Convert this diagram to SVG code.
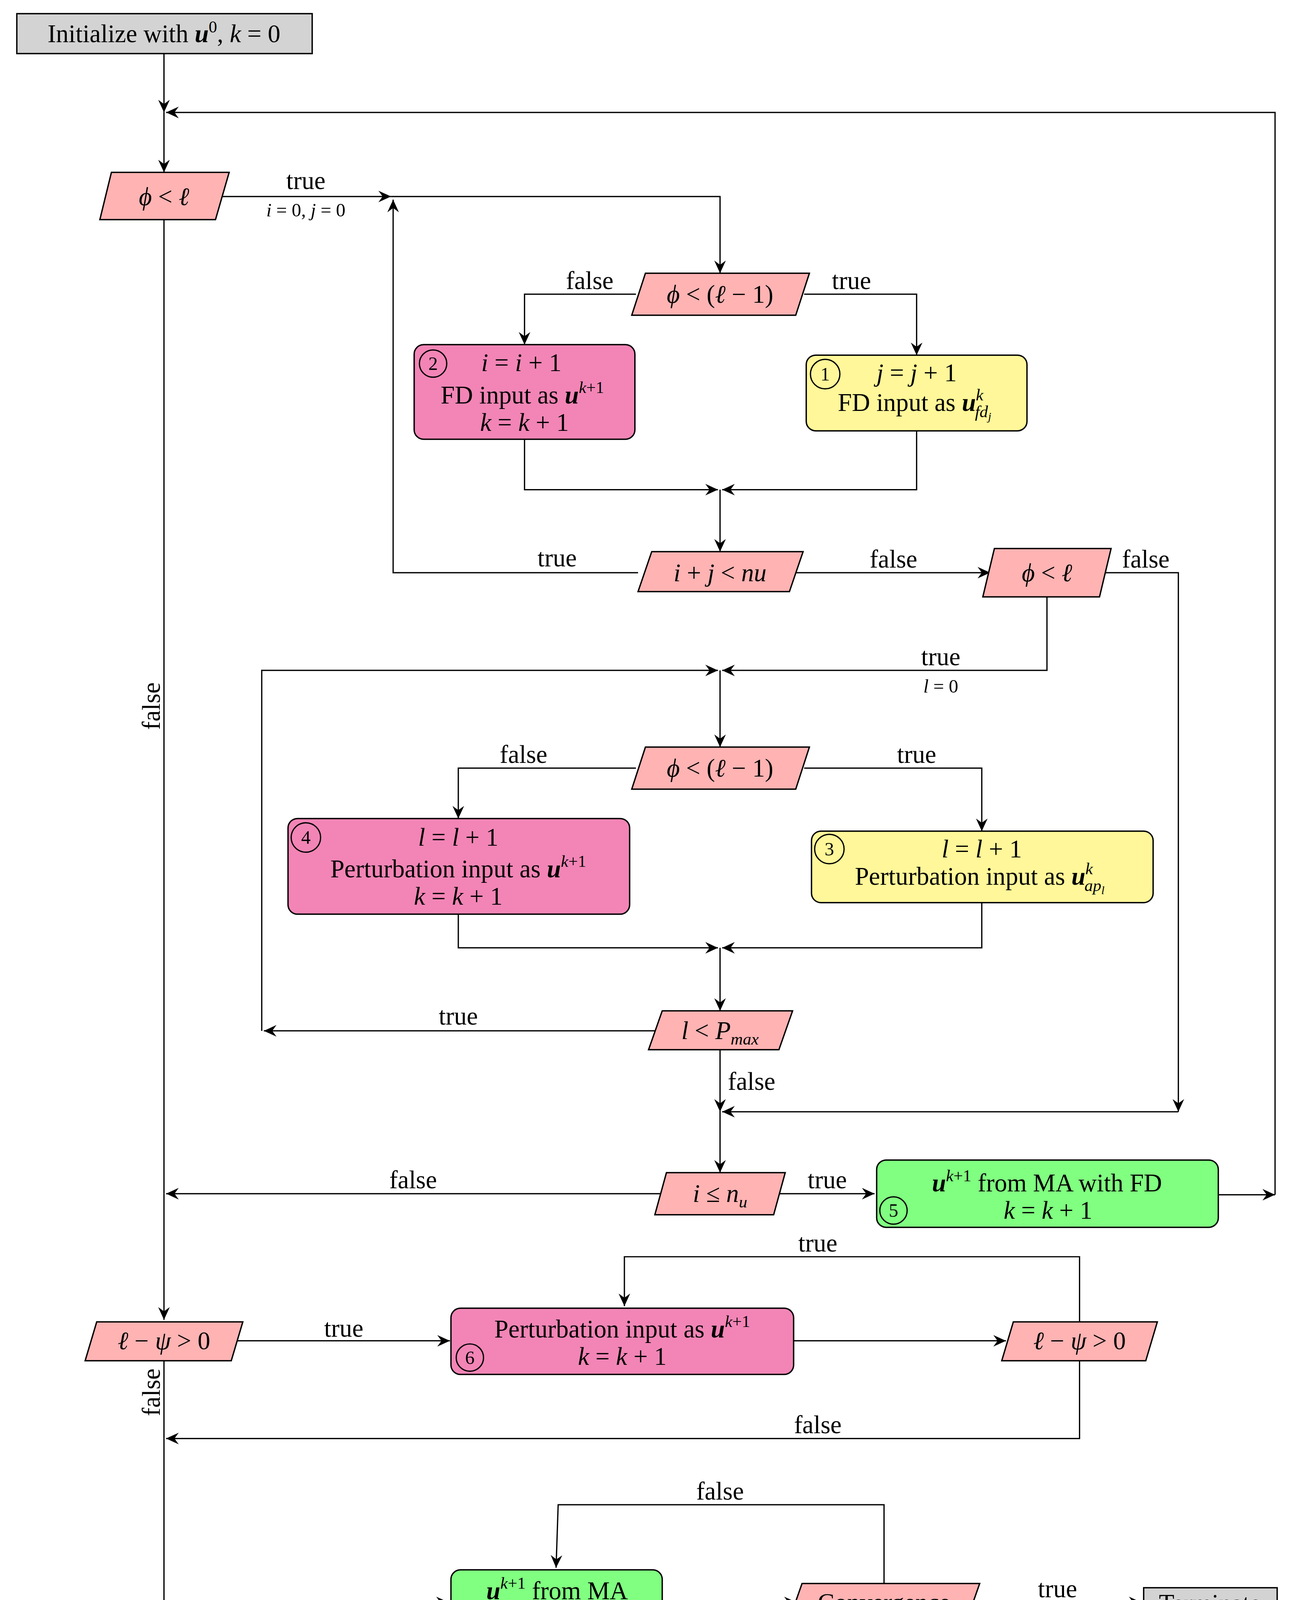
<svg xmlns="http://www.w3.org/2000/svg" width="3314" height="4221" viewBox="0 0 3314 4221">
<defs>
<marker id="ah" markerUnits="userSpaceOnUse" markerWidth="16" markerHeight="14" viewBox="-13 -7 15 14" refX="0" refY="0" orient="auto"><path d="M0,0 L-12,-5.5 L-8,0 L-12,5.5 Z" fill="#000"/></marker>
<style>
text{font-family:"Liberation Serif","DejaVu Serif",serif;font-size:24px;fill:#000}
.c{text-anchor:middle}
.s{font-size:18px}
.i{font-style:italic}
.b{font-style:italic;font-weight:bold}
.sup{font-size:16px}
.par{fill:#ffb3b3;stroke:#000;stroke-width:1.3}
.pk{fill:#f285b6;stroke:#000;stroke-width:1.3}
.ye{fill:#fff799;stroke:#000;stroke-width:1.3}
.gr{fill:#80ff80;stroke:#000;stroke-width:1.3}
.gy{fill:#d3d3d3;stroke:#000;stroke-width:1.3}
.cn path,.cn line,.cn polyline{fill:none;stroke:#000;stroke-width:1.2}
.ar{marker-end:url(#ah)}
.ci{fill:none;stroke:#000;stroke-width:1.2}
.n{font-size:18px}
</style>
</defs>
<rect width="3314" height="4221" fill="#fff"/>
<g transform="scale(2.69)">
<g class="cn">
<polyline class="ar" points="156,51 156,107"/>
<polyline class="ar" points="1213,1137 1213,107 158,107"/>
<polyline class="ar" points="156,107 156,164"/>
<polyline class="ar" points="205,187 372,187"/>
<polyline class="ar" points="372,187 685,187 685,260"/>
<polyline class="ar" points="607,545 374,545 374,190"/>
<polyline class="ar" points="605,280 499,280 499,328"/>
<polyline class="ar" points="765,280 872,280 872,338"/>
<polyline class="ar" points="499,418 499,466 683,466"/>
<polyline class="ar" points="872,410 872,466 687,466"/>
<polyline class="ar" points="685,466 685,525"/>
<polyline class="ar" points="757,545 942,545"/>
<polyline class="ar" points="1052,545 1121,545 1121,1058"/>
<polyline class="ar" points="996,568 996,638 687,638"/>
<polyline class="ar" points="249,981 249,638 683,638"/>
<polyline class="ar" points="685,638 685,711"/>
<polyline class="ar" points="605,731 436,731 436,779"/>
<polyline class="ar" points="765,731 934,731 934,791"/>
<polyline class="ar" points="436,870 436,902 683,902"/>
<polyline class="ar" points="934,859 934,902 687,902"/>
<polyline class="ar" points="685,902 685,962"/>
<polyline class="ar" points="624,981 251,981"/>
<polyline class="ar" points="685,999 685,1058"/>
<polyline class="ar" points="1121,1058 687,1058"/>
<polyline class="ar" points="685,1058 685,1116"/>
<polyline class="ar" points="628,1136 158,1136"/>
<polyline class="ar" points="742,1136 832,1136"/>
<polyline class="ar" points="1159,1137 1213,1137"/>
<polyline points="156,209 156,1136"/>
<polyline class="ar" points="156,1136 156,1256"/>
<polyline class="ar" points="226,1276 428,1276"/>
<polyline class="ar" points="755,1276 957,1276"/>
<polyline class="ar" points="1027,1258 1027,1196 594,1196 594,1243"/>
<polyline class="ar" points="1027,1295 1027,1369 158,1369"/>
<polyline points="156,1295 156,1369"/>
<polyline class="ar" points="156,1369 156,1525 427,1525"/>
<polyline class="ar" points="630,1525 758,1525"/>
<polyline class="ar" points="841,1507 841,1432 531,1432 529,1492"/>
<polyline class="ar" points="925,1525 1086,1525"/>
</g>
<g id="labels">
<text class="c" x="291" y="180">true</text>
<text class="c s" x="291" y="206"><tspan class="i">i</tspan> = 0, <tspan class="i">j</tspan> = 0</text>
<text class="c" x="561" y="275">false</text>
<text class="c" x="810" y="275">true</text>
<text class="c" x="530" y="539">true</text>
<text class="c" x="850" y="540">false</text>
<text class="c" x="1090" y="540">false</text>
<text class="c" x="895" y="633">true</text>
<text class="c s" x="895" y="659"><tspan class="i">l</tspan> = 0</text>
<text class="c" x="498" y="726">false</text>
<text class="c" x="872" y="726">true</text>
<text class="c" x="436" y="975">true</text>
<text class="c" x="715" y="1037">false</text>
<text class="c" x="393" y="1131">false</text>
<text class="c" x="787" y="1131">true</text>
<text class="c" x="327" y="1272">true</text>
<text class="c" x="778" y="1191">true</text>
<text class="c" x="778" y="1364">false</text>
<text class="c" x="685" y="1427">false</text>
<text class="c" x="1006" y="1520">true</text>
<text class="c" transform="translate(152,672) rotate(-90)">false</text>
<text class="c" transform="translate(152,1325) rotate(-90)">false</text>
</g>
<g id="init"><rect class="gy" x="16" y="13" width="281" height="38"/><text class="c" x="156" y="40">Initialize with <tspan class="b">u</tspan><tspan class="sup" dy="-9">0</tspan><tspan dy="9">, </tspan><tspan class="i">k</tspan> = 0</text></g>
<g id="d1"><polygon class="par" points="106,164 218,164 205,209 95,209"/><text class="c" x="156" y="195"><tspan class="i">ϕ</tspan> &lt; <tspan class="i">ℓ</tspan></text></g>
<g id="d2"><polygon class="par" points="614,260 770,260 757,300 601,300"/><text class="c" x="685" y="288"><tspan class="i">ϕ</tspan> &lt; (<tspan class="i">ℓ</tspan> − 1)</text></g>
<g id="b2"><rect class="pk" x="394" y="328" width="210" height="90" rx="9"/><circle class="ci" cx="412" cy="346" r="13"/><text class="c n" x="412" y="352">2</text><text class="c" x="496" y="353"><tspan class="i">i</tspan>  =  <tspan class="i">i</tspan> + 1</text><text class="c" x="497" y="384">FD input as <tspan class="b">u</tspan><tspan class="sup" dy="-10"><tspan class="i">k</tspan>+1</tspan></text><text class="c" x="499" y="410"><tspan class="i">k</tspan>  =  <tspan class="i">k</tspan> + 1</text></g>
<g id="b1"><rect class="ye" x="767" y="338" width="210" height="72" rx="9"/><circle class="ci" cx="785" cy="356" r="14"/><text class="c n" x="785" y="362">1</text><text class="c" x="872" y="363"><tspan class="i">j</tspan>  =  <tspan class="i">j</tspan> + 1</text><text class="c" x="870" y="391">FD input as <tspan class="b">u</tspan><tspan class="sup i" dy="-10">k</tspan><tspan class="sup i" dx="-8" dy="16">fd</tspan><tspan class="i" style="font-size:11px" dy="3">j</tspan></text></g>
<g id="d3"><polygon class="par" points="620,525 764,525 751,563 607,563"/><text class="c" x="685" y="553"><tspan class="i">i</tspan> + <tspan class="i">j</tspan> &lt; <tspan class="i">nu</tspan></text></g>
<g id="d4"><polygon class="par" points="946,522 1057,522 1046,568 935,568"/><text class="c" x="996" y="553"><tspan class="i">ϕ</tspan> &lt; <tspan class="i">ℓ</tspan></text></g>
<g id="d5"><polygon class="par" points="614,711 770,711 757,751 601,751"/><text class="c" x="685" y="739"><tspan class="i">ϕ</tspan> &lt; (<tspan class="i">ℓ</tspan> − 1)</text></g>
<g id="b4"><rect class="pk" x="274" y="779" width="325" height="91" rx="9"/><circle class="ci" cx="291" cy="797" r="14"/><text class="c n" x="291" y="803">4</text><text class="c" x="436" y="805"><tspan class="i">l</tspan>    =    <tspan class="i">l</tspan>  +  1</text><text class="c" x="436" y="835">Perturbation input as <tspan class="b">u</tspan><tspan class="sup" dy="-10"><tspan class="i">k</tspan>+1</tspan></text><text class="c" x="436" y="861"><tspan class="i">k</tspan>    =    <tspan class="i">k</tspan>  +  1</text></g>
<g id="b3"><rect class="ye" x="772" y="791" width="325" height="68" rx="9"/><circle class="ci" cx="789" cy="808" r="14"/><text class="c n" x="789" y="814">3</text><text class="c" x="934" y="816"><tspan class="i">l</tspan>    =    <tspan class="i">l</tspan>  +  1</text><text class="c" x="932" y="842">Perturbation input as <tspan class="b">u</tspan><tspan class="sup i" dy="-10">k</tspan><tspan class="sup i" dx="-8" dy="16">ap</tspan><tspan class="i" style="font-size:11px" dy="3">l</tspan></text></g>
<g id="d6"><polygon class="par" points="630,962 754,962 741,999 617,999"/><text class="c" x="685" y="989"><tspan class="i">l</tspan> &lt; <tspan class="i">P</tspan><tspan class="sup i" dy="5">max</tspan></text></g>
<g id="d7"><polygon class="par" points="634,1116 747,1116 736,1156 623,1156"/><text class="c" x="685" y="1144"><tspan class="i">i</tspan> ≤ <tspan class="i">n</tspan><tspan class="sup i" dy="5">u</tspan></text></g>
<g id="b5"><rect class="gr" x="834" y="1104" width="325" height="64" rx="9"/><text class="c" x="996" y="1134"><tspan class="b">u</tspan><tspan class="sup" dy="-10"><tspan class="i">k</tspan>+1</tspan><tspan dy="10"> from MA with FD</tspan></text><circle class="ci" cx="850" cy="1152" r="13"/><text class="c n" x="850" y="1158">5</text><text class="c" x="997" y="1160"><tspan class="i">k</tspan>    =    <tspan class="i">k</tspan>  +  1</text></g>
<g id="d8"><polygon class="par" points="92,1258 231,1258 220,1295 81,1295"/><text class="c" x="156" y="1284"><tspan class="i">ℓ</tspan> − <tspan class="i">ψ</tspan> &gt; 0</text></g>
<g id="b6"><rect class="pk" x="429" y="1245" width="326" height="63" rx="9"/><text class="c" x="592" y="1273">Perturbation input as <tspan class="b">u</tspan><tspan class="sup" dy="-10"><tspan class="i">k</tspan>+1</tspan></text><circle class="ci" cx="447" cy="1292" r="13"/><text class="c n" x="447" y="1298">6</text><text class="c" x="592" y="1299"><tspan class="i">k</tspan>    =    <tspan class="i">k</tspan>  +  1</text></g>
<g id="d9"><polygon class="par" points="964,1258 1101,1258 1090,1295 953,1295"/><text class="c" x="1027" y="1284"><tspan class="i">ℓ</tspan> − <tspan class="i">ψ</tspan> &gt; 0</text></g>
<g id="b7"><rect class="gr" x="429" y="1494" width="201" height="63" rx="9"/><text class="c" x="530" y="1522"><tspan class="b">u</tspan><tspan class="sup" dy="-10"><tspan class="i">k</tspan>+1</tspan><tspan dy="10"> from MA</tspan></text><circle class="ci" cx="447" cy="1540" r="14"/><text class="c n" x="447" y="1546">7</text><text class="c" x="530" y="1548"><tspan class="i">k</tspan>  =  <tspan class="i">k</tspan> + 1</text></g>
<g id="d10"><polygon class="par" points="763,1507 932,1507 919,1544 750,1544"/><text class="c" x="841" y="1533">Convergence</text></g>
<g id="term"><rect class="gy" x="1088" y="1511" width="127" height="30"/><text class="c" x="1151" y="1534">Terminate</text></g>
</g>
</svg>
